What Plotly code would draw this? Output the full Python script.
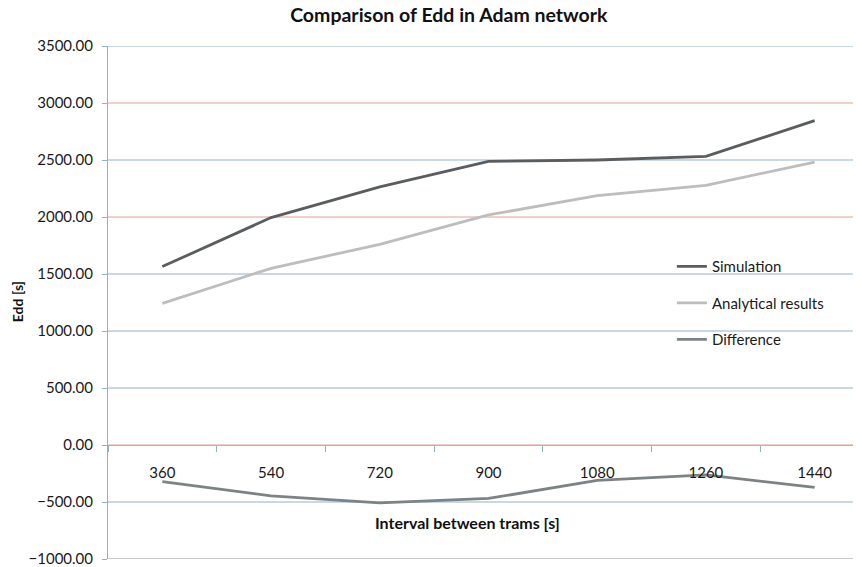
import plotly.graph_objects as go

intervals = ["360", "540", "720", "900", "1080", "1260", "1440"]
simulation = [1565, 1995, 2265, 2488, 2500, 2532, 2845]
analytical = [1243, 1550, 1760, 2018, 2188, 2278, 2482]
difference = [-322, -446, -508, -469, -310, -262, -372]

y_ticks = [-1000, -500, 0, 500, 1000, 1500, 2000, 2500, 3000, 3500]
blue_grid = [-500, 500, 1000, 1500, 2500, 3500]
red_grid = [0, 2000, 3000]

FONT = "Lato"
BLUE = "#93b1c6"
RED = "#e3a08e"

fig = go.Figure()
fig.add_trace(go.Scatter(x=intervals, y=simulation, name="Simulation", mode="lines",
                         line=dict(color="#5a5d5f", width=2.8), legendgroup="a"))
fig.add_trace(go.Scatter(x=intervals, y=analytical, name="Analytical results", mode="lines",
                         line=dict(color="#bdbdbd", width=2.8), legendgroup="b"))
fig.add_trace(go.Scatter(x=intervals, y=difference, name="Difference", mode="lines",
                         line=dict(color="#7d8284", width=2.8), legendgroup="c"))

shapes = []
for v in blue_grid:
    shapes.append(dict(type="line", xref="paper", yref="y", x0=0, x1=1, y0=v, y1=v,
                       line=dict(color=BLUE, width=1), layer="between"))
for v in red_grid:
    shapes.append(dict(type="line", xref="paper", yref="y", x0=0, x1=1, y0=v, y1=v,
                       line=dict(color=RED, width=1), layer="between"))
shapes.append(dict(type="line", xref="paper", yref="y", x0=0, x1=1, y0=y_ticks[0], y1=y_ticks[0],
                   line=dict(color="#c8c8c8", width=2), layer="between"))

fig.update_layout(
    width=861, height=567,
    margin=dict(l=100, r=0, t=38, b=16),
    paper_bgcolor="white", plot_bgcolor="white",
    font=dict(family=FONT, size=15, color="#1a1a1a"),
    title=dict(text="<b>Comparison of Edd in Adam network</b>", xref="container", x=0.512,
               xanchor="center", yref="container", y=1.0, yanchor="top",
               pad=dict(t=0, b=0, l=0, r=0),
               font=dict(family=FONT, size=19.5, color="#111")),
    shapes=shapes,
    showlegend=True,
    legend=dict(x=0.741, y=0.602, xanchor="left", yanchor="top", bgcolor="rgba(0,0,0,0)",
                traceorder="grouped", tracegroupgap=14, font=dict(family=FONT, size=15)),
    xaxis=dict(type="category", range=[-0.5, 6.5], anchor="free",
               position=(0 - y_ticks[0]) / (y_ticks[-1] - y_ticks[0]),
               showgrid=False, showline=True, linecolor=RED, linewidth=1,
               ticks="outside", tickson="boundaries", ticklen=6, tickcolor=BLUE,
               ticklabelstandoff=14, automargin=False,
               tickfont=dict(family=FONT, size=15)),
    yaxis=dict(range=[y_ticks[0], y_ticks[-1]], tickvals=y_ticks, tickformat=".2f",
               showgrid=False, zeroline=False, showline=True, linecolor="#a2adb5", linewidth=1,
               ticks="outside", ticklen=5, tickcolor=BLUE, ticklabelstandoff=6,
               automargin=False, tickfont=dict(family=FONT, size=15)),
    annotations=[
        dict(text="<b>Edd [s]</b>", xref="paper", yref="paper", x=-0.118, y=0.501,
             textangle=-90, showarrow=False, font=dict(family=FONT, size=14, color="#111"),
             xanchor="center", yanchor="middle"),
        dict(text="<b>Interval between trams [s]</b>", xref="paper", yref="paper", x=0.472,
             y=0.072, showarrow=False, font=dict(family=FONT, size=16, color="#111"),
             xanchor="center", yanchor="middle"),
    ],
)

fig.write_html("out.html")
